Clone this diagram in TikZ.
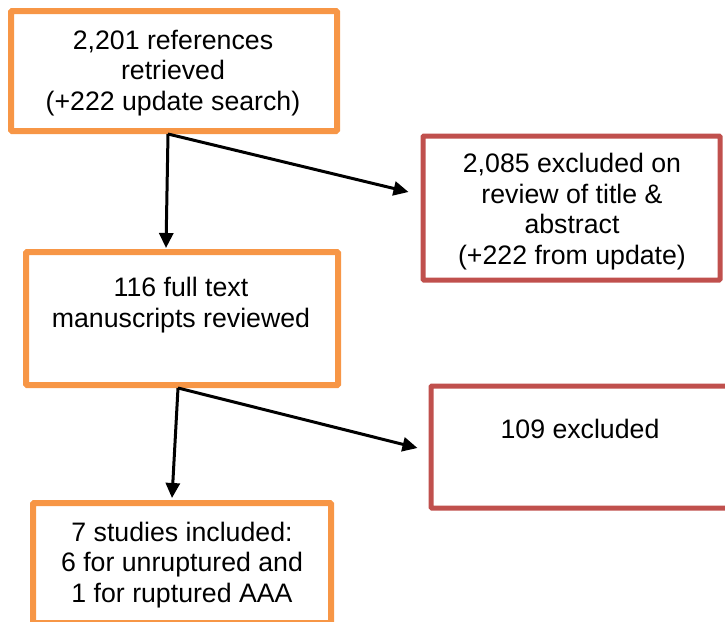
\documentclass[tikz,border=0pt]{standalone}
\usepackage{fontspec}
\setmainfont{Liberation Sans}
\usetikzlibrary{arrows.meta,calc}
\definecolor{boxorange}{HTML}{F79646}
\definecolor{boxred}{HTML}{C0504D}
\tikzset{
  obox/.style={draw=boxorange, line width=6pt, inner sep=0pt, rounded corners=1pt},
  rbox/.style={draw=boxred, line width=5pt, inner sep=0pt, rounded corners=1pt},
  txt/.style={align=center, inner sep=0pt, anchor=base, font=\fontsize{26.7}{30.5}\selectfont},
  conn/.style={line width=3pt, -{Triangle[length=15pt,width=14pt]}},
}
\begin{document}
\begin{tikzpicture}[x=1pt,y=-1pt]
\useasboundingbox (0,0) rectangle (725,621);
% text (base anchor = last line's baseline)
\node[txt] (t1) at (173,110) {2,201 references\\retrieved\\(+222 update search)};
\node[txt] (t2) at (572,264) {2,085 excluded on\\review of title \&\\abstract\\(+222 from update)};
\node[txt] (t3) at (181,327) {116 full text\\manuscripts reviewed};
\node[txt] (t4) at (580,438) {109 excluded};
\node[txt] (t5) at (182,602) {7 studies included:\\6 for unruptured and\\1 for ruptured AAA};
% boxes
\node[obox, minimum width=326pt, minimum height=120pt] (b1) at (174,71) {};
\node[rbox, minimum width=297pt, minimum height=144pt] (b2) at (571.5,208) {};
\node[obox, minimum width=312pt, minimum height=133pt] (b3) at (182,318.5) {};
\node[rbox, minimum width=310pt, minimum height=122pt] (b4) at (586,447) {};
\node[obox, minimum width=298pt, minimum height=120pt] (b5) at (182,563) {};
% connector ends
\coordinate (s1) at ($(b1.south west)+(160,0)$);
\coordinate (e1) at ($(b2.west)+(-12,-16)$);
\coordinate (s2) at ($(b3.south west)+(155,0)$);
\coordinate (e2) at ($(b4.west)+(-11,1)$);
\draw[conn] (s1) -- ($(b3.north west)+(143,-1)$);
\draw[conn] (s1) -- (e1);
\draw[conn] (s2) -- ($(b5.north west)+(142,-2)$);
\draw[conn] (s2) -- (e2);
\end{tikzpicture}
\end{document}
